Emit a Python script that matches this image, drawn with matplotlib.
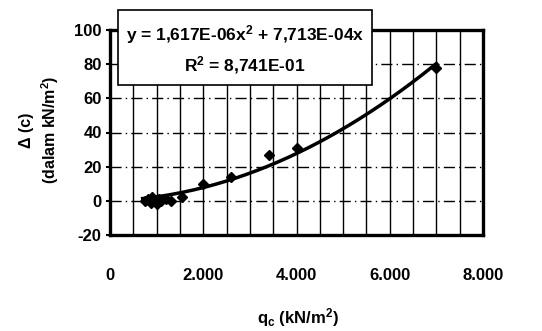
import numpy as np
import matplotlib
matplotlib.use("Agg")
import matplotlib.pyplot as plt
from matplotlib.patches import Rectangle

plt.rcParams['font.family'] = ['Liberation Sans', 'DejaVu Sans']
plt.rcParams['mathtext.fontset'] = 'custom'
plt.rcParams['mathtext.rm'] = 'Liberation Sans:bold'
plt.rcParams['mathtext.it'] = 'Liberation Sans:bold'
plt.rcParams['mathtext.bf'] = 'Liberation Sans:bold'
plt.rcParams['axes.unicode_minus'] = False

# data
qc = [750, 820, 870, 900, 950, 1000, 1050, 1100, 1200, 1300, 1550, 2000, 2600, 3400, 4000, 7000]
dc = [0, 1, -1, 2, 0, -2, 1, 0, 1, 0, 2, 10, 14, 27, 31, 78]

x_ticks = [0, 2000, 4000, 6000, 8000]
x_tick_labels = ["0", "2.000", "4.000", "6.000", "8.000"]
y_ticks = [-20, 0, 20, 40, 60, 80, 100]
eq_text = "y = 1,617E-06x$^2$ + 7,713E-04x"
r2_text = "R$^2$ = 8,741E-01"

fig = plt.figure(figsize=(5.42, 3.31), dpi=100)
ax = fig.add_axes([110/542, 1-235/331, 373/542, 205/331])

x = np.array(qc, float)
y = np.array(dc, float)
A = np.vstack([x**2, x]).T
coef, *_ = np.linalg.lstsq(A, y, rcond=None)

ax.set_xlim(0, 8000)
ax.set_ylim(-20, 100)

for gx in np.arange(500, 8000, 500):
    ax.axvline(gx, color='black', lw=1.0, zorder=1)
for gy in [0, 20, 40, 60, 80]:
    ax.axhline(gy, color='black', lw=1.0, ls=(0, (8, 3, 1, 3)), zorder=1)

xs = np.linspace(700, 7000, 200)
ax.plot(xs, coef[0]*xs**2 + coef[1]*xs, color='black', lw=2.5, zorder=3)
ax.plot(qc, dc, ls='none', marker='D', ms=5.5, color='black', zorder=4)

ax.set_xticks(x_ticks)
ax.set_xticklabels(x_tick_labels)
ax.set_yticks(y_ticks)
ax.tick_params(axis='x', length=0, pad=24, labelsize=12)
ax.tick_params(axis='y', length=3, width=1.5, pad=3, labelsize=12)
for lab in ax.get_xticklabels() + ax.get_yticklabels():
    lab.set_fontweight('bold')
for s in ax.spines.values():
    s.set_linewidth(2.4)
    s.set_color('black')

fig.text(26/542, 1-130/331, "Δ (c)", rotation=90, ha='center', va='center',
         fontsize=11.5, fontweight='bold')
fig.text(50/542, 1-130/331, "(dalam kN/m$^2$)", rotation=90, ha='center', va='center',
         fontsize=11.5, fontweight='bold')
fig.text(298/542, 1-318/331, "q$_c$ (kN/m$^2$)", ha='center', va='center',
         fontsize=12, fontweight='bold')

# equation box
box = Rectangle((118/542, 1-85/331), (372-118)/542, 75/331, transform=fig.transFigure,
                facecolor='white', edgecolor='black', lw=1.2, zorder=5)
fig.patches.append(box)
fig.text(245/542, 1-35/331, eq_text, ha='center', va='center', fontsize=12.5,
         fontweight='bold', zorder=6)
fig.text(245/542, 1-65/331, r2_text, ha='center', va='center', fontsize=12.5,
         fontweight='bold', zorder=6)

fig.savefig("out.png", dpi=100)
